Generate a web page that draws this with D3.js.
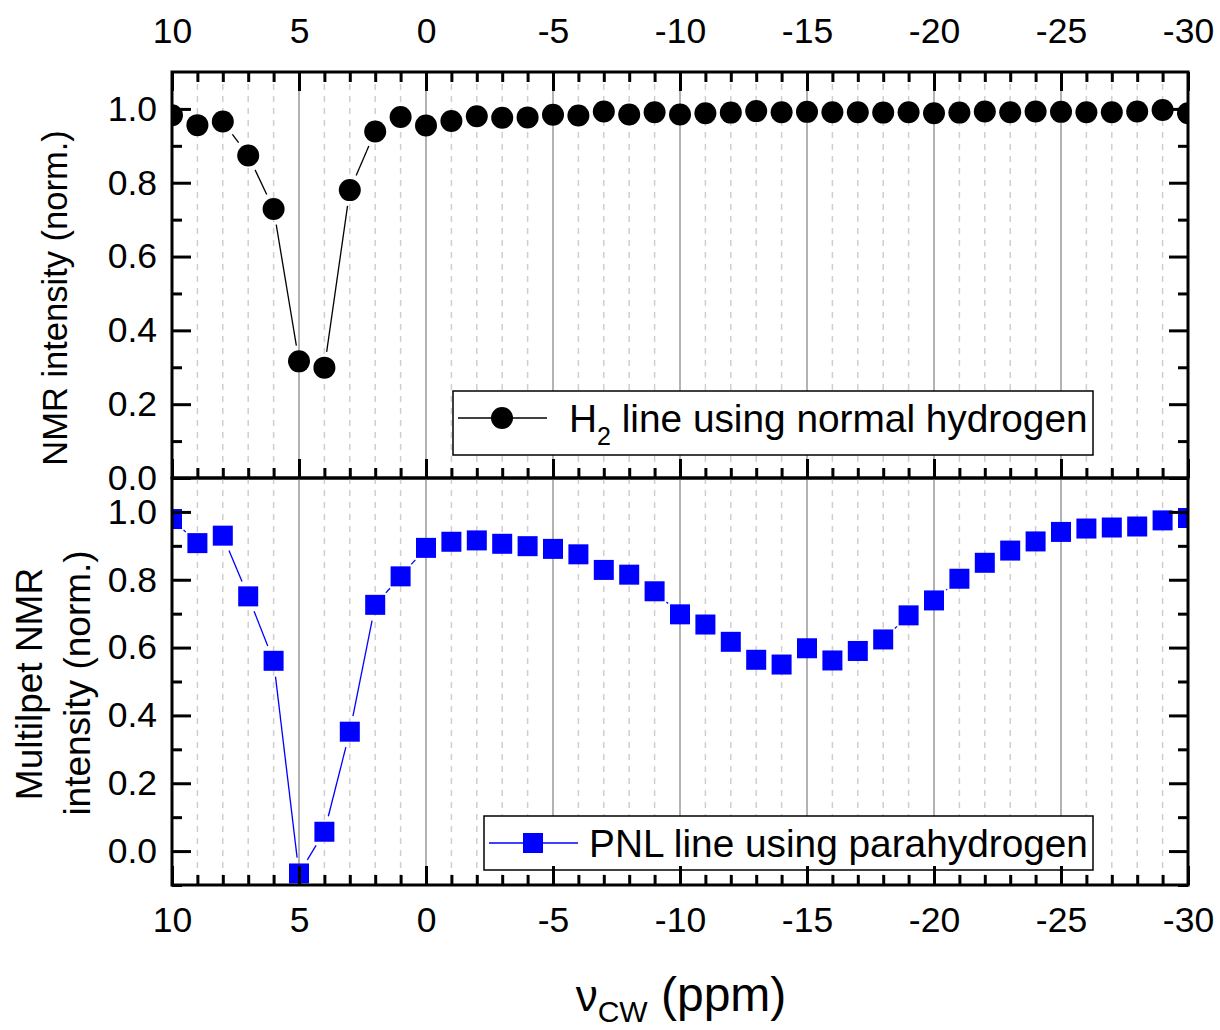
<!DOCTYPE html>
<html>
<head>
<meta charset="utf-8">
<script src="https://cdn.jsdelivr.net/npm/d3@7"></script>
<style>
  html, body { margin: 0; padding: 0; background: #fff; }
  svg { display: block; }
  text { font-family: "Liberation Sans", Arial, sans-serif; fill: #000; }
</style>
</head>
<body>
<svg id="chart" width="1220" height="1030"></svg>
<script>
// Irradiation frequency offset of the CW pulse (ppm)
const frequencies = [10, 9, 8, 7, 6, 5, 4, 3, 2, 1, 0, -1, -2, -3, -4, -5, -6, -7, -8, -9, -10,
  -11, -12, -13, -14, -15, -16, -17, -18, -19, -20, -21, -22, -23, -24, -25, -26, -27, -28, -29, -30];

// H2 line, normal hydrogen (normalised NMR intensity)
const h2Intensity = [0.983, 0.956, 0.966, 0.874, 0.729, 0.316, 0.299, 0.780, 0.939, 0.978, 0.955,
  0.967, 0.980, 0.976, 0.977, 0.984, 0.982, 0.993, 0.985, 0.991, 0.985,
  0.988, 0.990, 0.994, 0.991, 0.992, 0.991, 0.991, 0.990, 0.991, 0.988,
  0.990, 0.993, 0.991, 0.993, 0.992, 0.991, 0.991, 0.993, 0.997, 0.988];

// PNL line, parahydrogen (normalised multiplet NMR intensity)
const pnlIntensity = [0.979, 0.908, 0.930, 0.751, 0.561, -0.066, 0.057, 0.352, 0.726, 0.810, 0.894,
  0.912, 0.916, 0.906, 0.899, 0.891, 0.875, 0.829, 0.815, 0.766, 0.698,
  0.668, 0.617, 0.564, 0.550, 0.598, 0.562, 0.590, 0.624, 0.695, 0.739,
  0.803, 0.850, 0.886, 0.913, 0.941, 0.951, 0.954, 0.957, 0.975, 0.982];

// Tick values
const xMajorTicks = [10, 5, 0, -5, -10, -15, -20, -25, -30];
const yMajorTicks = [0.0, 0.2, 0.4, 0.6, 0.8, 1.0];
const yMinorTicksTop = [0.1, 0.3, 0.5, 0.7, 0.9];
const yMinorTicksBottom = [-0.1, 0.1, 0.3, 0.5, 0.7, 0.9];

const svg = d3.select("#chart");

const left = 172, right = 1188;
const x = d3.scaleLinear().domain([10, -30]).range([left, right]);

const topPanel = { top: 72, bottom: 478, domain: [0, 1.1] };
const bottomPanel = { top: 478, bottom: 885, domain: [-0.1, 1.1] };

const yTop = d3.scaleLinear().domain(topPanel.domain).range([topPanel.bottom, topPanel.top]);
const yBottom = d3.scaleLinear().domain(bottomPanel.domain).range([bottomPanel.bottom, bottomPanel.top]);

const minorX = frequencies.filter(f => f % 5 !== 0);
const fmtY = d3.format(".1f");
const fmtX = d => String(d);          // plain hyphen-minus, as on the printed axis
const MAJOR = 19, MINOR = 10, TICKFONT = 35.5;

function panel(p, id) {
  const g = svg.append("g");
  const w = right - left, h = p.bottom - p.top;

  g.append("clipPath").attr("id", id).append("rect")
    .attr("x", left).attr("y", p.top).attr("width", w).attr("height", h);

  // vertical grid: dashed minor lines, solid major lines
  g.append("g").selectAll("line").data(minorX).join("line")
    .attr("x1", d => x(d)).attr("x2", d => x(d))
    .attr("y1", p.top).attr("y2", p.bottom)
    .attr("stroke", "#cfcfcf").attr("stroke-width", 1.5).attr("stroke-dasharray", "6,6");
  g.append("g").selectAll("line").data(xMajorTicks.slice(1, -1)).join("line")
    .attr("x1", d => x(d)).attr("x2", d => x(d))
    .attr("y1", p.top).attr("y2", p.bottom)
    .attr("stroke", "#9a9a9a").attr("stroke-width", 1.5);

  return g;
}

// connecting line drawn as segments that stop short of each symbol
function gappedLine(g, values, y, color, gap, clipId) {
  const pts = frequencies.map((f, i) => [x(f), y(values[i])]);
  const segs = [];
  for (let i = 0; i < pts.length - 1; i++) {
    const [x1, y1] = pts[i], [x2, y2] = pts[i + 1];
    const len = Math.hypot(x2 - x1, y2 - y1);
    if (len <= 2 * gap) continue;
    const ux = (x2 - x1) / len, uy = (y2 - y1) / len;
    segs.push([x1 + ux * gap, y1 + uy * gap, x2 - ux * gap, y2 - uy * gap]);
  }
  g.append("g").attr("clip-path", `url(#${clipId})`)
    .selectAll("line").data(segs).join("line")
    .attr("x1", d => d[0]).attr("y1", d => d[1]).attr("x2", d => d[2]).attr("y2", d => d[3])
    .attr("stroke", color).attr("stroke-width", 1.3);
}

function frameAndTicks(p, y, yMinor, opts) {
  const g = svg.append("g");
  // left axis
  g.append("g").attr("transform", `translate(${left},0)`)
    .call(d3.axisLeft(y).tickValues(yMajorTicks).tickFormat(fmtY).tickSize(-MAJOR).tickPadding(15));
  g.append("g").attr("transform", `translate(${left},0)`)
    .call(d3.axisLeft(y).tickValues(yMinor).tickFormat("").tickSize(-MINOR));
  // right axis
  g.append("g").attr("transform", `translate(${right},0)`)
    .call(d3.axisRight(y).tickValues(yMajorTicks).tickFormat("").tickSize(-MAJOR));
  g.append("g").attr("transform", `translate(${right},0)`)
    .call(d3.axisRight(y).tickValues(yMinor).tickFormat("").tickSize(-MINOR));

  if (opts.topTicks) {
    g.append("g").attr("transform", `translate(0,${p.top})`)
      .call(d3.axisTop(x).tickValues(xMajorTicks).tickFormat(opts.topLabels ? fmtX : "").tickSize(-MAJOR).tickPadding(29));
    g.append("g").attr("transform", `translate(0,${p.top})`)
      .call(d3.axisTop(x).tickValues(minorX).tickFormat("").tickSize(-MINOR));
  }
  if (opts.bottomTicks) {
    g.append("g").attr("transform", `translate(0,${p.bottom})`)
      .call(d3.axisBottom(x).tickValues(xMajorTicks).tickFormat(opts.bottomLabels ? fmtX : "").tickSize(-MAJOR).tickPadding(22));
    g.append("g").attr("transform", `translate(0,${p.bottom})`)
      .call(d3.axisBottom(x).tickValues(minorX).tickFormat("").tickSize(-MINOR));
  }
  g.selectAll(".domain").remove();
  g.selectAll(".tick line").attr("stroke", "#000").attr("stroke-width", 3);
  g.selectAll(".tick text").style("font-size", TICKFONT + "px").attr("fill", "#000")
    .style("font-family", "'Liberation Sans', Arial, sans-serif");

  g.append("rect").attr("x", left).attr("y", p.top)
    .attr("width", right - left).attr("height", p.bottom - p.top)
    .attr("fill", "none").attr("stroke", "#000").attr("stroke-width", 3);
}

// ---------- top panel: H2 line, normal hydrogen ----------
const gTop = panel(topPanel, "clipTop");
gappedLine(gTop, h2Intensity, yTop, "#000", 16, "clipTop");
gTop.append("g").attr("clip-path", "url(#clipTop)")
  .selectAll("circle").data(frequencies).join("circle")
  .attr("cx", d => x(d)).attr("cy", (d, i) => yTop(h2Intensity[i])).attr("r", 11)
  .attr("fill", "#000");

// legend
const lgTop = svg.append("g");
lgTop.append("rect").attr("x", 453).attr("y", 391).attr("width", 640).attr("height", 64)
  .attr("fill", "#fff").attr("stroke", "#000").attr("stroke-width", 1.5);
lgTop.append("line").attr("x1", 458).attr("x2", 547).attr("y1", 418).attr("y2", 418)
  .attr("stroke", "#000").attr("stroke-width", 1.3);
lgTop.append("circle").attr("cx", 502).attr("cy", 418).attr("r", 11).attr("fill", "#000");
const tTop = lgTop.append("text").attr("x", 569).attr("y", 432).style("font-size", "38.8px");
tTop.append("tspan").text("H");
tTop.append("tspan").attr("dy", 13).style("font-size", "25px").text("2");
tTop.append("tspan").attr("dy", -13).text(" line using normal hydrogen");

frameAndTicks(topPanel, yTop, yMinorTicksTop, { topTicks: true, topLabels: true, bottomTicks: true, bottomLabels: false });

// ---------- bottom panel: PNL line, parahydrogen ----------
const gBot = panel(bottomPanel, "clipBot");
gappedLine(gBot, pnlIntensity, yBottom, "#0000ff", 16, "clipBot");
gBot.append("g").attr("clip-path", "url(#clipBot)")
  .selectAll("rect").data(frequencies).join("rect")
  .attr("x", d => x(d) - 10).attr("y", (d, i) => yBottom(pnlIntensity[i]) - 10)
  .attr("width", 20).attr("height", 20)
  .attr("fill", "#0000ff");

const lgBot = svg.append("g");
lgBot.append("rect").attr("x", 484).attr("y", 816).attr("width", 609).attr("height", 54)
  .attr("fill", "#fff").attr("stroke", "#000").attr("stroke-width", 1.5);
lgBot.append("line").attr("x1", 489).attr("x2", 578).attr("y1", 843).attr("y2", 843)
  .attr("stroke", "#0000ff").attr("stroke-width", 1.3);
lgBot.append("rect").attr("x", 523).attr("y", 833).attr("width", 20).attr("height", 20).attr("fill", "#0000ff");
lgBot.append("text").attr("x", 589).attr("y", 857).style("font-size", "38.8px")
  .text("PNL line using parahydrogen");

frameAndTicks(bottomPanel, yBottom, yMinorTicksBottom, { topTicks: false, bottomTicks: true, bottomLabels: true });

// ---------- axis titles ----------
svg.append("text").attr("transform", "translate(67,298) rotate(-90)")
  .attr("text-anchor", "middle").style("font-size", "34.5px")
  .text("NMR intensity (norm.)");

svg.append("text").attr("transform", "translate(42,684) rotate(-90)")
  .attr("text-anchor", "middle").style("font-size", "37px")
  .text("Multilpet NMR");
svg.append("text").attr("transform", "translate(90,683) rotate(-90)")
  .attr("text-anchor", "middle").style("font-size", "37px")
  .text("intensity (norm.)");

const xt = svg.append("text").attr("x", 681).attr("y", 1011)
  .attr("text-anchor", "middle").style("font-size", "48px");
xt.append("tspan").style("font-size", "44px").text("ν");
xt.append("tspan").attr("dy", 11).style("font-size", "30px").text("CW");
xt.append("tspan").attr("dy", -11).text(" (ppm)");
</script>
</body>
</html>
